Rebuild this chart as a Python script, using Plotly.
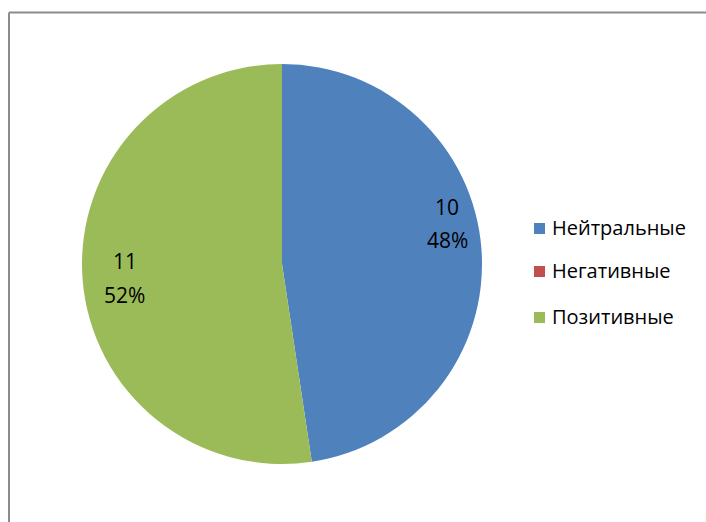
import plotly.graph_objects as go

# Review sentiment counts
categories = ["Нейтральные", "Негативные", "Позитивные"]
counts = [10, 0, 11]
colors = ["#4F81BD", "#C0504D", "#9BBB59"]

W, H = 706, 522
total = sum(counts)
FONT = "Open Sans, Lato, sans-serif"

fig = go.Figure()
fig.add_trace(go.Pie(
    labels=categories,
    values=counts,
    marker=dict(colors=colors, line=dict(width=0)),
    sort=False,
    direction="clockwise",
    rotation=0,
    textinfo="none",
    hoverinfo="label+value+percent",
    showlegend=False,
    domain=dict(x=[82 / W, 482 / W], y=[1 - 464 / H, 1 - 64 / H]),
))

# Data labels: value on the first line, share on the second
label_pos = {"Нейтральные": (447, 207, 240), "Позитивные": (125, 261, 295)}
annotations = []
for name, v in zip(categories, counts):
    if v == 0 or name not in label_pos:
        continue
    px, py1, py2 = label_pos[name]
    pct = round(100 * v / total)
    for txt, py in ((f"{v}", py1), (f"{pct}%", py2)):
        annotations.append(dict(
            x=px / W, y=1 - py / H, xref="paper", yref="paper",
            text=txt, showarrow=False, xanchor="center", yanchor="middle",
            font=dict(family=FONT, size=21, color="#000000"),
        ))

# Legend drawn as colored squares with labels
shapes = []
legend_rows = [228, 271, 317]
for name, col, ry in zip(categories, colors, legend_rows):
    shapes.append(dict(
        type="rect", xref="paper", yref="paper",
        x0=534 / W, x1=545 / W, y0=1 - (ry + 6) / H, y1=1 - (ry - 5) / H,
        fillcolor=col, line=dict(width=0),
    ))
    annotations.append(dict(
        x=550 / W, y=1 - (ry - 1) / H, xref="paper", yref="paper",
        text=name, showarrow=False, xanchor="left", yanchor="middle",
        font=dict(family=FONT, size=20, color="#000000"),
    ))

# Chart area frame (top and left edges visible)
frame = dict(color="#8C8C8C", width=2)
shapes.append(dict(type="line", xref="paper", yref="paper",
                   x0=9 / W, x1=1, y0=1 - 12.5 / H, y1=1 - 12.5 / H, line=frame))
shapes.append(dict(type="line", xref="paper", yref="paper",
                   x0=9 / W, x1=9 / W, y0=0, y1=1 - 12.5 / H, line=frame))

fig.update_layout(
    width=W, height=H,
    margin=dict(l=0, r=0, t=0, b=0),
    paper_bgcolor="white",
    plot_bgcolor="white",
    annotations=annotations,
    shapes=shapes,
    showlegend=False,
)

fig.write_html("out.html")
